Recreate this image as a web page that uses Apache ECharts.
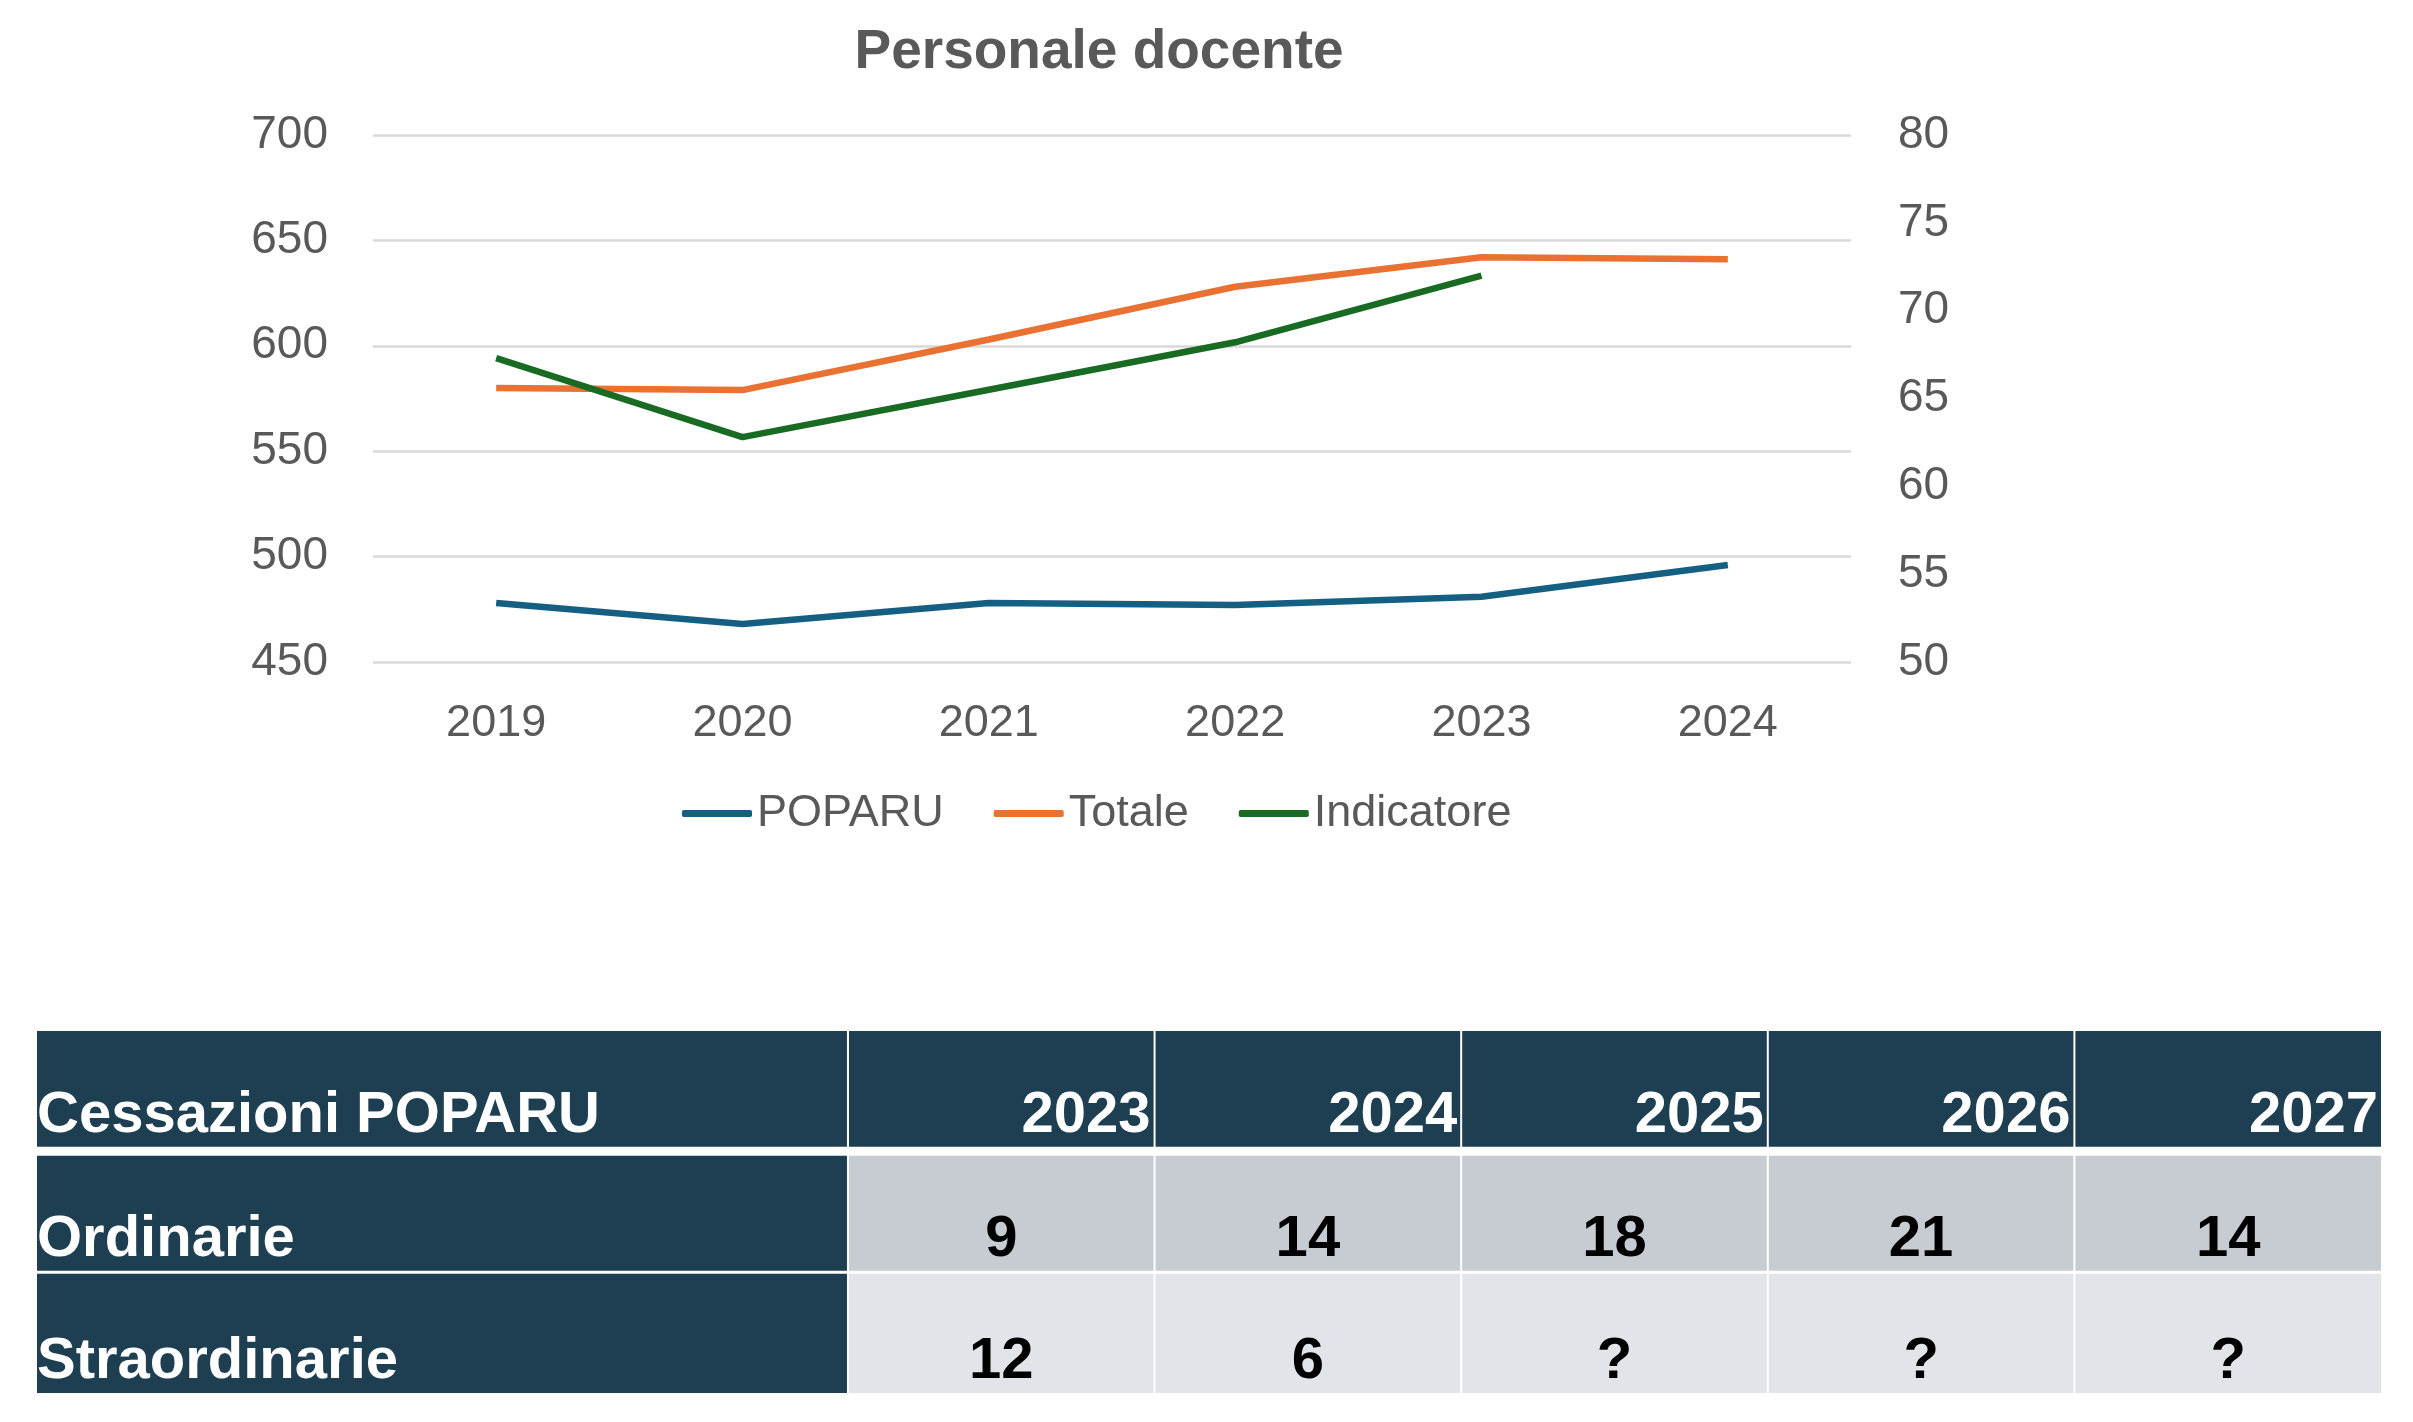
<!DOCTYPE html>
<html>
<head>
<meta charset="utf-8">
<title>Personale docente</title>
<script src="https://cdn.jsdelivr.net/npm/echarts@6/dist/echarts.min.js"></script>
<style>
  html, body { margin: 0; padding: 0; background: #fff; }
  #chart { width: 2413px; height: 1422px; }
</style>
</head>
<body>
<div id="chart"></div>
<script>
// dati del grafico
const years = ['2019', '2020', '2021', '2022', '2023', '2024']
const poparu = [478, 468, 478, 477, 481, 496]
const totale = [580, 579, 603, 628, 642, 641]
const indicatore = [67.3, 62.8, 65.5, 68.2, 72.0, null]

// dati della tabella
const tableTitle = 'Cessazioni POPARU'
const tableYears = ['2023', '2024', '2025', '2026', '2027']
const rowLabels = ['Ordinarie', 'Straordinarie']
const ordinarie = ['9', '14', '18', '21', '14']
const straordinarie = ['12', '6', '?', '?', '?']

const textGrey = '#595959'
const dark = '#1e3e52'
const rowFill = ['#c7ccd3', '#e1e4e9']
const labelColWidth = 2.645 // prima colonna, in unità di colonna

// celle della tabella: [colonna, riga, testo]
const cells = []
cells.push([0, 0, tableTitle])
tableYears.forEach((y, i) => cells.push([i + 1, 0, y]))
rowLabels.forEach((label, r) => {
  cells.push([0, r + 1, label])
  const vals = r === 0 ? ordinarie : straordinarie
  vals.forEach((v, i) => cells.push([i + 1, r + 1, v]))
})

const colStart = (c) => (c === 0 ? 0 : labelColWidth + c - 1)
const colEnd = (c) => (c === 0 ? labelColWidth : labelColWidth + c)

// spazi bianchi sopra/sotto ogni riga (px)
const rowInset = [[0, 5], [4, 1.5], [1.5, 0]]

const renderCell = (params, api) => {
  const c = api.value(0)
  const r = api.value(1)
  const text = cells[params.dataIndex][2]
  const p0 = api.coord([colStart(c), r])
  const p1 = api.coord([colEnd(c), r + 1])
  const x0 = p0[0] + (c === 0 ? 0 : 1)
  const x1 = p1[0] - (c === tableYears.length ? 0 : 1)
  const y0 = p0[1] + rowInset[r][0]
  const y1 = p1[1] - rowInset[r][1]
  const isDark = r === 0 || c === 0
  let tx = (x0 + x1) / 2
  let align = 'center'
  if (c === 0) {
    tx = x0
    align = 'left'
  } else if (r === 0) {
    tx = x1 - 3
    align = 'right'
  }
  return {
    type: 'group',
    children: [
      {
        type: 'rect',
        shape: { x: x0, y: y0, width: x1 - x0, height: y1 - y0 },
        style: { fill: isDark ? dark : rowFill[r - 1] }
      },
      {
        type: 'text',
        style: {
          text: text,
          x: tx,
          y: y1 - 31,
          align: align,
          verticalAlign: 'middle',
          fill: isDark ? '#ffffff' : '#000000',
          fontSize: 58,
          fontWeight: 'bold',
          fontFamily: 'Liberation Sans'
        }
      }
    ]
  }
}

const chart = echarts.init(document.getElementById('chart'))

const option = {
  animation: false,
  backgroundColor: '#ffffff',
  textStyle: { fontFamily: 'Liberation Sans' },
  title: {
    text: 'Personale docente',
    left: 1099,
    top: 25,
    padding: 0,
    textAlign: 'center',
    textStyle: {
      fontSize: 55,
      fontWeight: 'bold',
      color: textGrey,
      fontFamily: 'Liberation Sans'
    }
  },
  legend: {
    data: ['POPARU', 'Totale', 'Indicatore'],
    left: 682,
    top: 791,
    padding: 0,
    icon: 'roundRect',
    itemWidth: 70,
    itemHeight: 7,
    itemGap: 50,
    textStyle: { fontSize: 45, color: textGrey }
  },
  grid: [
    { left: 373, right: 562, top: 135, bottom: 760, containLabel: false, outerBoundsMode: 'none' },
    { left: 37, right: 32, top: 1031, bottom: 29, containLabel: false, outerBoundsMode: 'none' }
  ],
  xAxis: [
    {
      type: 'category',
      gridIndex: 0,
      data: years,
      axisLine: { show: false },
      axisTick: { show: false },
      axisLabel: { fontSize: 45, color: textGrey, margin: 39 }
    },
    { type: 'value', gridIndex: 1, min: 0, max: labelColWidth + tableYears.length, show: false }
  ],
  yAxis: [
    {
      type: 'value',
      gridIndex: 0,
      min: 450,
      max: 700,
      interval: 50,
      axisLine: { show: false },
      axisTick: { show: false },
      axisLabel: { fontSize: 46, color: textGrey, margin: 45 },
      splitLine: { lineStyle: { color: '#d9d9d9', width: 2.5 } }
    },
    {
      type: 'value',
      gridIndex: 0,
      position: 'right',
      min: 50,
      max: 80,
      interval: 5,
      axisLine: { show: false },
      axisTick: { show: false },
      axisLabel: { fontSize: 46, color: textGrey, margin: 47 },
      splitLine: { show: false }
    },
    { type: 'value', gridIndex: 1, min: 0, max: 3, inverse: true, show: false }
  ],
  series: [
    {
      name: 'POPARU',
      type: 'line',
      data: poparu,
      symbol: 'none',
      itemStyle: { color: '#156082' },
      lineStyle: { color: '#156082', width: 6.5 }
    },
    {
      name: 'Totale',
      type: 'line',
      data: totale,
      symbol: 'none',
      itemStyle: { color: '#e97132' },
      lineStyle: { color: '#e97132', width: 6.5 }
    },
    {
      name: 'Indicatore',
      type: 'line',
      yAxisIndex: 1,
      data: indicatore,
      symbol: 'none',
      itemStyle: { color: '#196b24' },
      lineStyle: { color: '#196b24', width: 6.5 }
    },
    {
      type: 'custom',
      xAxisIndex: 1,
      yAxisIndex: 2,
      silent: true,
      renderItem: renderCell,
      data: cells.map(d => [d[0], d[1]])
    }
  ]
}

chart.setOption(option)
</script>
</body>
</html>
